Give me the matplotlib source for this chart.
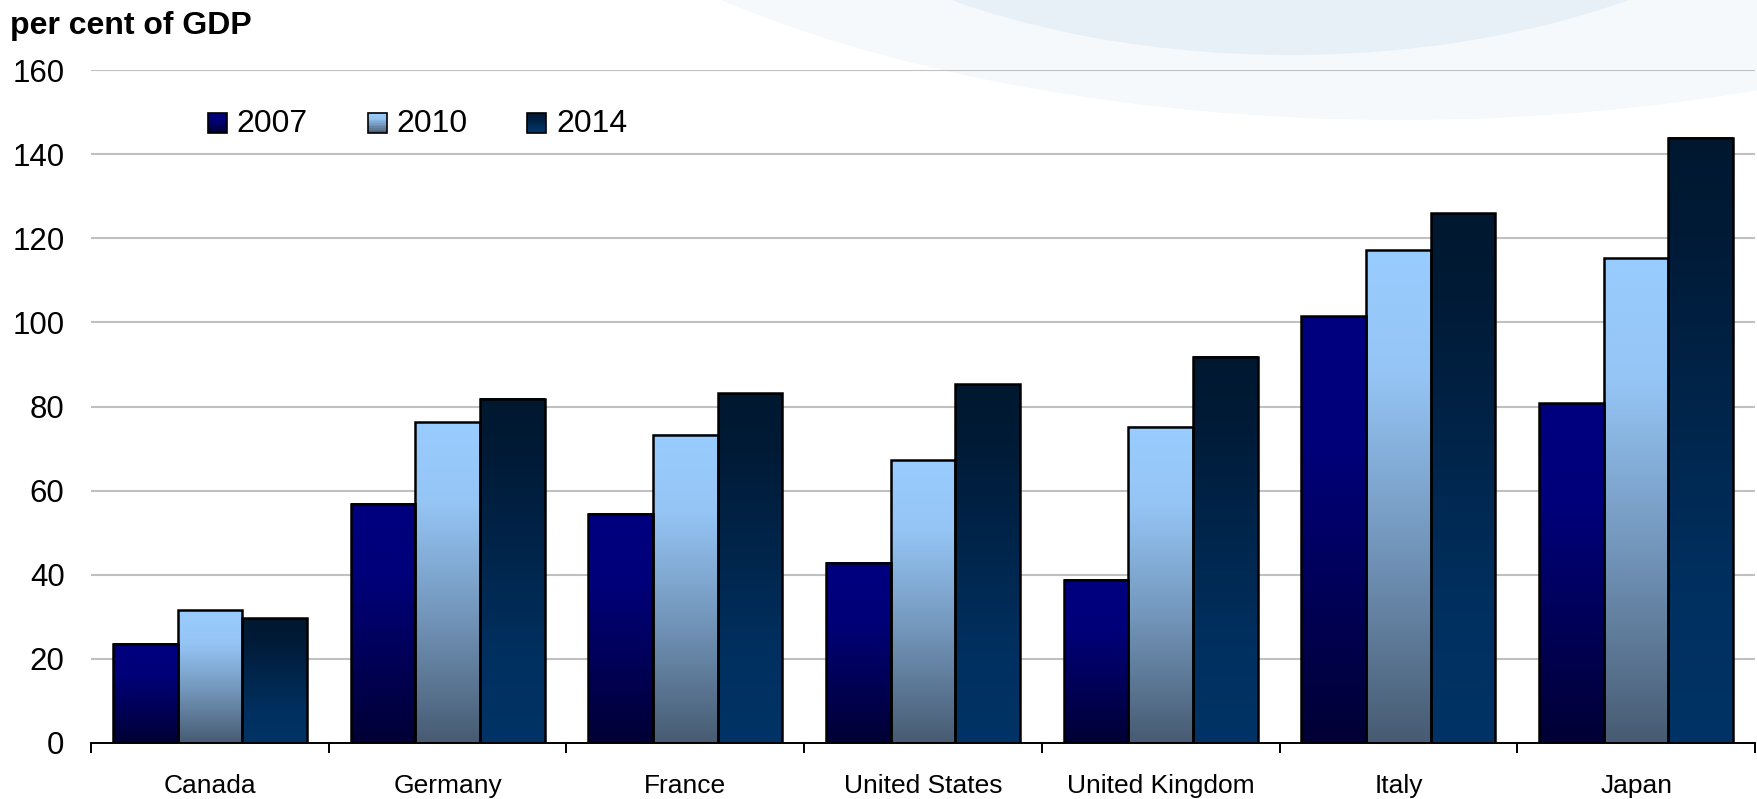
import numpy as np
import matplotlib
matplotlib.use("Agg")
import matplotlib.pyplot as plt
from matplotlib.colors import LinearSegmentedColormap
from matplotlib.patches import Rectangle, Ellipse
from matplotlib.legend_handler import HandlerBase

# data
countries = ["Canada", "Germany", "France", "United States", "United Kingdom", "Italy", "Japan"]
years = ["2007", "2010", "2014"]
debt_2007 = [23.6, 56.9, 54.5, 42.8, 38.8, 101.4, 80.8]
debt_2010 = [31.6, 76.3, 73.3, 67.2, 75.2, 117.2, 115.2]
debt_2014 = [29.7, 81.9, 83.2, 85.3, 91.8, 126.0, 143.9]
yticks = [0, 20, 40, 60, 80, 100, 120, 140, 160]

# gradient stops for each series (0 = top of bar, 1 = bottom)
stops = {
    "2007": [(0.0, "#000080"), (0.3, "#00007a"), (1.0, "#000035")],
    "2010": [(0.0, "#99ccff"), (0.25, "#95c5f5"), (0.6, "#7396bb"), (1.0, "#475b72")],
    "2014": [(0.0, "#00182f"), (0.15, "#001a36"), (0.75, "#003060"), (1.0, "#003366")],
}
cmaps = {k: LinearSegmentedColormap.from_list("g" + k, v) for k, v in stops.items()}

W, H = 1757, 799
fig = plt.figure(figsize=(W / 100, H / 100), dpi=100)
plt.rcParams["font.family"] = ["Liberation Sans", "DejaVu Sans"]

# faint decorative arcs in the background
fig.patches.append(Ellipse((1400 / W, 1 + 330 / H), 2000 / W, 900 / H,
                           transform=fig.transFigure, facecolor="#f5f9fc",
                           edgecolor="none", zorder=-2))
fig.patches.append(Ellipse((1290 / W, 1 + 260 / H), 1200 / W, 630 / H,
                           transform=fig.transFigure, facecolor="#e7f0f7",
                           edgecolor="none", zorder=-1))

ax = fig.add_axes([91 / W, 1 - 743 / H, (1755 - 91) / W, (743 - 70) / H])
ax.set_facecolor("none")
ax.set_zorder(1)

x = np.arange(len(countries))
bw = 0.272
series = [debt_2007, debt_2010, debt_2014]
grad = np.linspace(0, 1, 256).reshape(-1, 1)

for i, (yr, vals) in enumerate(zip(years, series)):
    bars = ax.bar(x + (i - 1) * bw, vals, bw, facecolor="none",
                  edgecolor="black", linewidth=1.8, zorder=3)
    for b in bars:
        x0, y0 = b.get_x(), b.get_y()
        ax.imshow(grad, cmap=cmaps[yr], aspect="auto", origin="upper",
                  extent=[x0, x0 + b.get_width(), y0, y0 + b.get_height()],
                  zorder=2, interpolation="bicubic")

ax.set_xlim(-0.5, len(countries) - 0.5)
ax.set_ylim(0, 160)
ax.set_yticks(yticks)
ax.yaxis.grid(True, color="#c0c0c0", linewidth=1.5)
ax.set_axisbelow(True)
ax.tick_params(axis="y", length=0, pad=19, labelsize=22.5)

# category labels at centres, ticks at boundaries
ax.set_xticks(x)
ax.set_xticklabels(countries)
ax.set_xticks(np.arange(len(countries) + 1) - 0.5, minor=True)
ax.tick_params(axis="x", which="major", length=0, pad=22, labelsize=19)
ax.tick_params(axis="x", which="minor", length=7, width=1.4, direction="out")

for s in ["top", "right", "left"]:
    ax.spines[s].set_visible(False)
ax.spines["bottom"].set_linewidth(1.4)
ax.spines["bottom"].set_zorder(4)


# gradient squares in the legend
class GradHandler(HandlerBase):
    def create_artists(self, legend, orig, xd, yd, width, height, fontsize, trans):
        cm = cmaps[orig.get_label()]
        n = 12
        arts = []
        for k in range(n):
            arts.append(Rectangle((xd, yd + height * (1 - (k + 1) / n)), width, height / n,
                                  facecolor=cm((k + 0.5) / n), edgecolor="none",
                                  transform=trans))
        arts.append(Rectangle((xd, yd), width, height, facecolor="none",
                              edgecolor="black", linewidth=1.2, transform=trans))
        return arts


handles = [Rectangle((0, 0), 1, 1, label=yr) for yr in years]
ax.legend(handles=handles, labels=years, handler_map={Rectangle: GradHandler()},
          loc="center left", bbox_to_anchor=(208 / W, 1 - 124 / H),
          bbox_transform=fig.transFigure, ncol=3, frameon=False, fontsize=23,
          handlelength=0.6, handleheight=0.6, handletextpad=0.3,
          columnspacing=1.87, borderpad=0, borderaxespad=0)

fig.text(10 / W, 1 - 11 / H, "per cent of GDP", fontsize=23, fontweight="bold",
         ha="left", va="top")

fig.savefig("out.png", dpi=100)
